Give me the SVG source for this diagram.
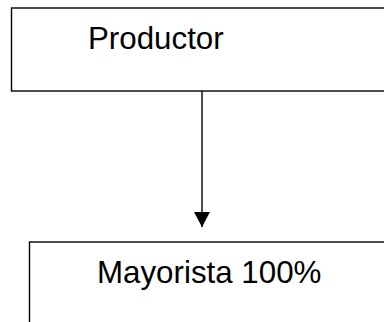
<svg xmlns="http://www.w3.org/2000/svg" width="384" height="322" viewBox="0 0 384 322">
<style>
.box{fill:#fff;stroke:#000;stroke-width:1.4}
.lbl{font-family:"Liberation Sans",Arial,sans-serif;font-size:31.3px;fill:#000}
.conn{stroke:#000;stroke-width:1.4;fill:none}
</style>
<defs>
<marker id="ah" markerUnits="userSpaceOnUse" markerWidth="16" markerHeight="17" refX="15" refY="8" orient="auto">
<path d="M0,0 L15,8 L0,16 Z" fill="#000"/>
</marker>
</defs>
<rect width="384" height="322" fill="#fff"/>
<g id="productor">
<rect class="box" x="11.5" y="8" width="400" height="83"/>
<text class="lbl" x="88" y="48.5">Productor</text>
</g>
<g id="mayorista">
<rect class="box" x="29.5" y="242" width="400" height="120"/>
<text class="lbl" x="97" y="283">Mayorista 100%</text>
</g>
<g id="connectors">
<line class="conn" x1="202" y1="91" x2="202" y2="227" marker-end="url(#ah)"/>
</g>
</svg>
